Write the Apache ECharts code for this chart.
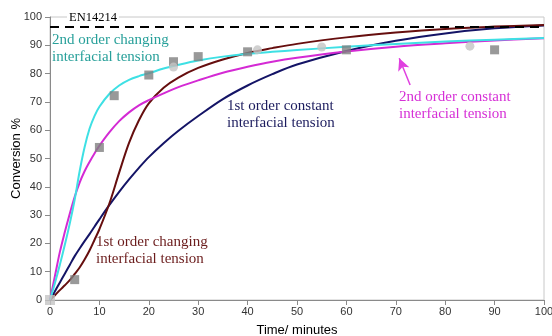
<!DOCTYPE html>
<html>
<head>
<meta charset="utf-8">
<script src="https://cdn.jsdelivr.net/npm/echarts@6/dist/echarts.min.js"></script>
<style>
  html, body { margin: 0; padding: 0; background: #fff; }
  #chart { width: 552px; height: 336px; }
</style>
</head>
<body>
<div id="chart"></div>
<script>
// time (minutes) for the model curves
const curveTimes = [0, 1, 2, 3, 4, 5, 6, 7, 8, 9, 10, 12, 14, 16, 18, 20, 23, 26, 30, 35, 40, 45, 50, 60, 70, 80, 90, 100];

// model curves, conversion %
const secondOrderChanging = [0, 6, 12.5, 19.5, 27, 35.5, 45.5, 54, 60.5, 65, 68.3, 72.8, 75.8, 77.8, 79.1, 80.1, 81.8, 83.1, 84.6, 86, 87, 87.7, 88.3, 89.5, 90.5, 91.3, 92, 92.6];
const secondOrderConstant = [0, 8.5, 17, 24, 30.5, 36.5, 41.5, 45.5, 48.8, 51.8, 54.5, 59.2, 63.2, 66.3, 68.8, 70.6, 73, 75.2, 77.6, 80.3, 82.4, 84.2, 85.6, 87.8, 89.5, 90.7, 91.7, 92.5];
const firstOrderChanging = [0, 1.7, 3.5, 5.2, 7, 9.2, 11.5, 14.3, 17.5, 21.2, 25, 34, 45, 55.5, 63.5, 69.5, 75, 78.6, 82, 85, 87.3, 89, 90.5, 92.8, 94.5, 95.8, 96.6, 97.2];
const firstOrderConstant = [0, 3.1, 6.2, 9.3, 12.4, 15.5, 18.2, 20.8, 23.3, 25.9, 28.5, 33.5, 38.2, 42.6, 46.7, 50.5, 55.4, 59.8, 65, 71, 75.8, 79.8, 83.2, 88, 91.6, 94.2, 96, 97];

// measured points
const darkPoints = [[5, 7.2], [10, 53.9], [13, 72.2], [20, 79.5], [25, 84.2], [30, 86], [40, 87.7], [60, 88.4], [90, 88.4]];
const lightPoints = [[25, 82.3], [42, 88.4], [55, 89.4], [85, 89.7]];
const originPoint = [0, 0];

const en14214 = 96.5;
const arrowFrom = [72.9, 76];
const arrowTo = [70.7, 85.4];

const pair = (ys) => curveTimes.map((t, i) => [t, ys[i]]);

const serif = "'Liberation Serif', 'DejaVu Serif', serif";
const sans = "'Liberation Sans', Arial, sans-serif";

const lineSeries = (name, ys, color) => ({
  name: name,
  type: "line",
  data: pair(ys),
  smooth: 0.35,
  showSymbol: false,
  symbol: "none",
  lineStyle: { width: 2, color: color },
  z: 3,
});

let chart = echarts.init(document.getElementById("chart"), null, { renderer: "canvas" });

const option = {
  animation: false,
  backgroundColor: "#fff",
  grid: {
    left: 50,
    right: 8,
    top: 17,
    bottom: 36,
    outerBoundsMode: "none",
    containLabel: false,
    show: true,
    borderColor: "#c8c8c8",
    borderWidth: 1,
  },
  xAxis: {
    type: "value",
    min: 0,
    max: 100,
    interval: 10,
    name: "Time/ minutes",
    nameLocation: "middle",
    nameGap: 24,
    nameMoveOverlap: false,
    nameTextStyle: { fontFamily: sans, fontSize: 13, color: "#000" },
    axisLine: { lineStyle: { color: "#8a8a8a" } },
    axisTick: { length: 5, lineStyle: { color: "#8a8a8a" } },
    axisLabel: { fontFamily: sans, fontSize: 11, color: "#333", margin: 6 },
    splitLine: { show: false },
  },
  yAxis: {
    type: "value",
    min: 0,
    max: 100,
    interval: 10,
    name: "Conversion %",
    nameLocation: "middle",
    nameGap: 27,
    nameMoveOverlap: false,
    nameTextStyle: { fontFamily: sans, fontSize: 13, color: "#000" },
    axisLine: { show: true, lineStyle: { color: "#8a8a8a" } },
    axisTick: { show: true, length: 5, lineStyle: { color: "#8a8a8a" } },
    axisLabel: { fontFamily: sans, fontSize: 11, color: "#333", margin: 8 },
    splitLine: { show: false },
  },
  series: [
    lineSeries("1st order constant", firstOrderConstant, "#141466"),
    lineSeries("1st order changing", firstOrderChanging, "#660e0e"),
    lineSeries("2nd order constant", secondOrderConstant, "#d42ad4"),
    Object.assign(lineSeries("2nd order changing", secondOrderChanging, "#3ee0e4"), {
      markLine: {
        silent: true,
        symbol: "none",
        label: { show: false },
        lineStyle: { color: "#000", width: 2, type: [9, 6] },
        data: [{ yAxis: en14214 }],
      },
    }),
    {
      name: "arrow",
      type: "line",
      data: [],
      markLine: {
        silent: true,
        symbol: ["none", "arrow"],
        symbolSize: [9, 12],
        label: { show: false },
        lineStyle: { color: "#e040e0", width: 1.5, type: "solid" },
        data: [[{ coord: arrowFrom }, { coord: arrowTo }]],
      },
    },
    {
      name: "measured",
      type: "scatter",
      symbol: "rect",
      symbolSize: 9,
      itemStyle: { color: "#808080" },
      data: darkPoints,
      z: 5,
    },
    {
      name: "measured 2",
      type: "scatter",
      symbol: "circle",
      symbolSize: 9,
      itemStyle: { color: "#c4c4c4" },
      data: lightPoints.concat([{ value: originPoint, symbol: "rect", symbolSize: 10 }]),
      z: 5,
    },
  ],
  graphic: [
    {
      type: "text", left: 67, top: 11, z: 10,
      style: { text: "EN14214", font: "12.5px " + serif, fill: "#000", backgroundColor: "#fff", padding: [0, 2] },
    },
    {
      type: "text", left: 52, top: 31, z: 10,
      style: { text: "2nd order changing\ninterfacial tension", font: "15px " + serif, fill: "#28a09a", lineHeight: 17.5 },
    },
    {
      type: "text", left: 227, top: 98, z: 10,
      style: { text: "1st order constant\ninterfacial tension", font: "15px " + serif, fill: "#1c1c5e", lineHeight: 17 },
    },
    {
      type: "text", left: 399, top: 89, z: 10,
      style: { text: "2nd order constant\ninterfacial tension", font: "15px " + serif, fill: "#d630d6", lineHeight: 17 },
    },
    {
      type: "text", left: 96, top: 234, z: 10,
      style: { text: "1st order changing\ninterfacial tension", font: "15px " + serif, fill: "#6b1c1c", lineHeight: 17 },
    },
  ],
};

chart.setOption(option);
window.addEventListener("resize", chart.resize);
</script>
</body>
</html>
